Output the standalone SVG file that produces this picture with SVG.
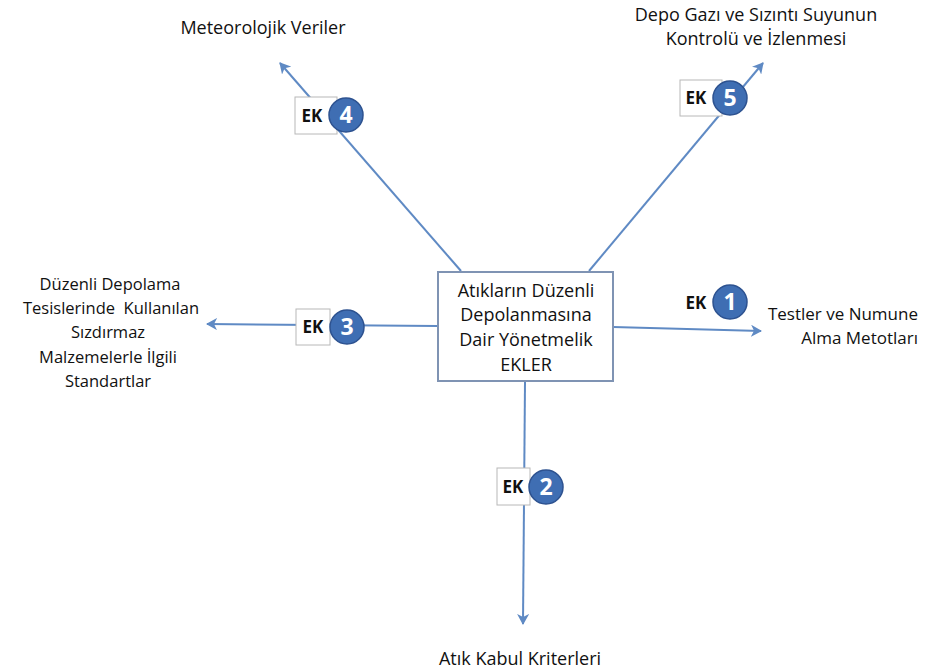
<svg xmlns="http://www.w3.org/2000/svg" width="926" height="671" viewBox="0 0 926 671">
  <style>
    .lbl { font-family: "Open Sans", "Liberation Sans", sans-serif; font-size: 18px; fill: #111; }
    .sm { font-size: 16.5px; }
    .md { font-size: 17px; }
    .ctr { text-anchor: middle; }
    .end { text-anchor: end; }
    .conn { stroke: #5f8ac4; stroke-width: 2; fill: none; marker-end: url(#arr); }
    .ekbox { fill: #fff; stroke: #b8b8b8; stroke-width: 1; }
    .ek { font-family: "Open Sans", "Liberation Sans", sans-serif; font-size: 17px; font-weight: bold; fill: #111; text-anchor: middle; }
    .num { fill: #3f6eb3; stroke: #2d5290; stroke-width: 1.5; }
    .numtxt { font-family: "Open Sans", "Liberation Sans", sans-serif; font-size: 23px; font-weight: bold; fill: #fff; text-anchor: middle; }
  </style>
  <defs>
    <marker id="arr" markerWidth="12" markerHeight="12" refX="10" refY="6" orient="auto" markerUnits="userSpaceOnUse">
      <path d="M0,0 L11,6 L0,12 L3,6 Z" fill="#5f8ac4"/>
    </marker>
  </defs>
  <rect width="926" height="671" fill="#fff"/>

  <!-- connectors from the central box -->
  <g id="connectors">
    <line class="conn" x1="461" y1="271" x2="280" y2="63"/>
    <line class="conn" x1="589" y1="271" x2="763" y2="63"/>
    <line class="conn" x1="613" y1="327" x2="761" y2="331"/>
    <line class="conn" x1="437" y1="326" x2="207" y2="324"/>
    <line class="conn" x1="525" y1="382" x2="523" y2="624"/>
  </g>

  <!-- central node -->
  <g id="center">
    <rect x="438" y="272" width="175" height="109" fill="#fff" stroke="#7f93b3" stroke-width="2"/>
    <text class="lbl ctr" x="526" y="297">Atıkların Düzenli</text>
    <text class="lbl ctr" x="526" y="321">Depolanmasına</text>
    <text class="lbl ctr" x="526" y="346">Dair Yönetmelik</text>
    <text class="lbl ctr" x="526" y="371">EKLER</text>
  </g>

  <!-- annex badges -->
  <g id="ek4">
    <rect class="ekbox" x="295" y="97" width="42" height="37"/>
    <text class="ek" x="312" y="122">EK</text>
    <circle class="num" cx="346" cy="115" r="17"/>
    <text class="numtxt" x="346" y="123">4</text>
  </g>
  <g id="ek5">
    <rect class="ekbox" x="680" y="80" width="42" height="36"/>
    <text class="ek" x="696" y="104">EK</text>
    <circle class="num" cx="730" cy="98" r="17"/>
    <text class="numtxt" x="730" y="106">5</text>
  </g>
  <g id="ek1">
    <text class="ek" x="696" y="309">EK</text>
    <circle class="num" cx="730" cy="302" r="17"/>
    <text class="numtxt" x="730" y="310">1</text>
  </g>
  <g id="ek3">
    <rect class="ekbox" x="296" y="309" width="34" height="36"/>
    <text class="ek" x="313" y="333">EK</text>
    <circle class="num" cx="347" cy="327" r="17"/>
    <text class="numtxt" x="347" y="335">3</text>
  </g>
  <g id="ek2">
    <rect class="ekbox" x="497" y="468" width="33" height="37"/>
    <text class="ek" x="513" y="493">EK</text>
    <circle class="num" cx="546" cy="487" r="17"/>
    <text class="numtxt" x="546" y="495">2</text>
  </g>

  <!-- endpoint labels -->
  <g id="label-meteo">
    <text class="lbl ctr" x="263" y="34">Meteorolojik Veriler</text>
  </g>
  <g id="label-gas">
    <text class="lbl ctr" x="756" y="21">Depo Gazı ve Sızıntı Suyunun</text>
    <text class="lbl ctr" x="756" y="45">Kontrolü ve İzlenmesi</text>
  </g>
  <g id="label-tests">
    <text class="lbl md end" x="918" y="320">Testler ve Numune</text>
    <text class="lbl md end" x="918" y="344">Alma Metotları</text>
  </g>
  <g id="label-standards">
    <text class="lbl sm ctr" x="110" y="290">Düzenli Depolama</text>
    <text class="lbl sm ctr" x="111" y="314" xml:space="preserve">Tesislerinde  Kullanılan</text>
    <text class="lbl sm ctr" x="108" y="338">Sızdırmaz</text>
    <text class="lbl sm ctr" x="108" y="363">Malzemelerle İlgili</text>
    <text class="lbl sm ctr" x="108" y="387">Standartlar</text>
  </g>
  <g id="label-accept">
    <text class="lbl ctr" x="520" y="665">Atık Kabul Kriterleri</text>
  </g>
</svg>
